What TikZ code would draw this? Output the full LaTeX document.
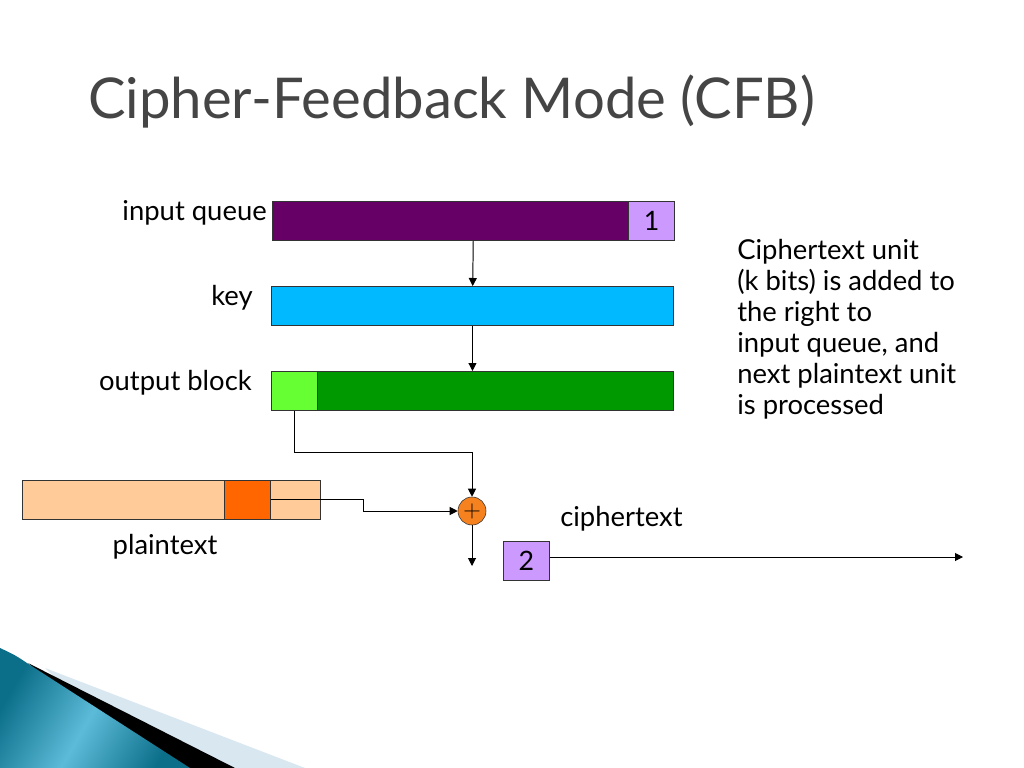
\documentclass[tikz,border=0pt]{standalone}
\usepackage{fontspec}
\setmainfont{Lato}
\usetikzlibrary{arrows.meta,positioning,calc}
\definecolor{queuec}{HTML}{660066}
\definecolor{unitc}{HTML}{CC99FF}
\definecolor{keyc}{HTML}{00B9FF}
\definecolor{outc}{HTML}{009900}
\definecolor{selc}{HTML}{66FF33}
\definecolor{plainc}{HTML}{FFCC99}
\definecolor{plainselc}{HTML}{FF6600}
\definecolor{xorc}{HTML}{F5821F}
\definecolor{titlec}{HTML}{454545}
\definecolor{tealA}{HTML}{0C6F8A}
\definecolor{tealB}{HTML}{5CBBD8}
\definecolor{paleb}{HTML}{D8E7F0}
\tikzset{
  bar/.style={draw=black!80, line width=0.6pt, minimum height=0.975cm, inner sep=0pt, anchor=north west},
  cell/.style={draw=black!80, line width=0.6pt, minimum width=1.15cm, minimum height=0.975cm, inner sep=0pt, font=\fontsize{19}{19}\selectfont},
  lbl/.style={font=\fontsize{19.5}{22}\selectfont, inner sep=0pt},
  xorop/.style={draw=black!80, circle, fill=xorc, minimum size=0.7cm, inner sep=0pt},
  arr/.style={-{Triangle[length=2mm,width=2mm]}, line width=0.7pt},
}
\begin{document}
\begin{tikzpicture}[x=0.025cm, y=-0.025cm]
  \useasboundingbox (0,0) rectangle (1024,768);
  % bottom corner decoration
  \fill[paleb] (45,668) -- (305,768) -- (150,768) -- cycle;
  \fill[black] (28,663) -- (235,768) -- (150,768) -- cycle;
  \shade[left color=tealA, right color=tealA, middle color=tealB, shading angle=60]
    (0,648) .. controls (15,655) .. (30,665) -- (190,768) -- (0,768) -- cycle;
  % title
  \node[font=\fontsize{40}{40}\selectfont, text=titlec, anchor=base west, inner sep=0pt] (title) at (88,119) {Cipher-Feedback Mode (CFB)};
  % registers
  \node[bar, fill=queuec, minimum width=10.05cm] (inq) at (272,201) {};
  \node[cell, fill=unitc, anchor=north east] (one) at (inq.north east) {1};
  \node[bar, fill=keyc, minimum width=10.05cm] (key) at (271,286) {};
  \node[bar, fill=outc, minimum width=10.05cm] (outb) at (271,371) {};
  \node[cell, fill=selc, anchor=north west] (outsel) at (outb.north west) {};
  \node[bar, fill=plainc, minimum width=7.45cm] (plain) at (22,480) {};
  \node[cell, fill=plainselc, anchor=north west] (plainsel) at (224,480) {};
  \node[xorop] (xor) at (472,511) {\fontsize{18}{18}\selectfont$+$};
  \node[cell, fill=unitc, anchor=north west] (two) at (503,541) {2};
  % labels
  \node[lbl, anchor=base east] (inqlbl) at (267,220) {input queue};
  \node[lbl, anchor=base east] (keylbl) at (253,305) {key};
  \node[lbl, anchor=base east] (outlbl) at (252,390) {output block};
  \node[lbl, anchor=base] (plainlbl) at (165,554) {plaintext};
  \node[lbl, anchor=base west] (ctlbl) at (560,526) {ciphertext};
  \node[lbl, anchor=north west, align=left] (note) at (737,239)
    {Ciphertext unit\\(k bits) is added to\\the right to\\input queue, and\\next plaintext unit\\is processed};
  % connectors
  \coordinate (xorout) at (472,566);
  \coordinate (ctend) at (963,557);
  \draw[arr] (inq) -- (key);
  \draw[arr] (key) -- (outb);
  \draw[arr] (outsel.south) -- ++(0,42) -| (xor.north);
  \draw[arr] (plainsel.east) -- ++(93,0) |- (xor.west);
  \draw[arr] (xor.south) -- (xorout);
  \draw[arr] (two.east |- ctend) -- (ctend);
\end{tikzpicture}
\end{document}
